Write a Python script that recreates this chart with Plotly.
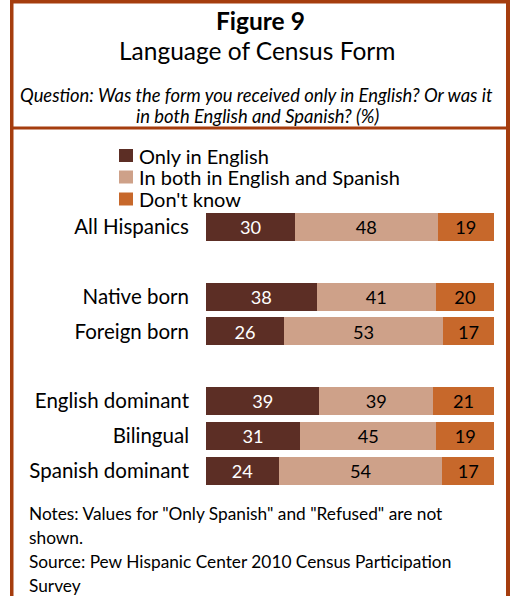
import plotly.graph_objects as go

# ---- data ----
categories = ["All Hispanics", "Native born", "Foreign born",
              "English dominant", "Bilingual", "Spanish dominant"]
row_pos = [0, 2, 3, 5, 6, 7]
only_english = [30, 38, 26, 39, 31, 24]
both_languages = [48, 41, 53, 39, 45, 54]
dont_know = [19, 20, 17, 21, 19, 17]
series_names = ["Only in English", "In both in English and Spanish", "Don't know"]

W, H = 512, 596
FONT = "Lato"
C_DARK = "#5C2E25"
C_TAN = "#CEA189"
C_ORANGE = "#C7682B"
C_BORDER = "#A53D0E"
series_colors = [C_DARK, C_TAN, C_ORANGE]
text_colors = ["white", "black", "black"]


def px(x):
    return x / W


def py(y):
    return 1 - y / H


fig = go.Figure()
for name, vals, col, tcol in zip(series_names,
                                 [only_english, both_languages, dont_know],
                                 series_colors, text_colors):
    fig.add_trace(go.Bar(
        y=row_pos, x=vals, name=name, orientation="h",
        marker=dict(color=col, line=dict(width=0)),
        width=0.8,
        text=[str(v) for v in vals], textposition="inside",
        insidetextanchor="middle", textangle=0,
        textfont=dict(family=FONT, size=20, color=tcol),
        hoverinfo="skip", showlegend=False,
    ))

fig.update_layout(
    width=W, height=H,
    margin=dict(l=0, r=0, t=0, b=0),
    paper_bgcolor="white", plot_bgcolor="white",
    barmode="stack", barnorm="percent", bargap=0,
    font=dict(family=FONT, size=19, color="black"),
    showlegend=False,
    xaxis=dict(domain=[px(206), px(494)], range=[0, 100], visible=False,
               fixedrange=True),
    yaxis=dict(domain=[py(488), py(209.6)], range=[7.5, -0.5],
               tickvals=row_pos, ticktext=categories, showgrid=False,
               zeroline=False, showline=False, ticks="",
               ticklabelstandoff=16,
               tickfont=dict(family=FONT, size=20.5, color="black"),
               fixedrange=True),
)

# legend (drawn as swatches + labels)
legend_y = [155.5, 177, 199]
for name, col, yy in zip(series_names, series_colors, legend_y):
    fig.add_shape(type="rect", xref="paper", yref="paper",
                  x0=px(119), x1=px(133), y0=py(yy + 6.5), y1=py(yy - 6.5),
                  fillcolor=col, line=dict(width=0))
    fig.add_annotation(text=name, x=px(137), y=py(yy), xref="paper",
                       yref="paper", showarrow=False, xanchor="left",
                       yanchor="middle",
                       font=dict(family=FONT, size=20, color="black"))

# frame
line_shapes = [
    dict(x0=px(10), x1=px(13.5), y0=py(0), y1=py(H)),
    dict(x0=px(506), x1=px(510), y0=py(0), y1=py(H)),
    dict(x0=px(10), x1=px(510), y0=py(0), y1=py(3.5)),
    dict(x0=px(10), x1=px(510), y0=py(126.5), y1=py(129.5)),
]
for s in line_shapes:
    fig.add_shape(type="rect", xref="paper", yref="paper",
                  fillcolor=C_BORDER, line=dict(width=0), layer="above", **s)

# header text
fig.add_annotation(text="<b>Figure 9</b>", x=px(260), y=py(21), xref="paper",
                   yref="paper", showarrow=False, xanchor="center",
                   yanchor="middle", font=dict(family=FONT, size=24.5))
fig.add_annotation(text="Language of Census Form", x=px(257), y=py(51),
                   xref="paper", yref="paper", showarrow=False,
                   xanchor="center", yanchor="middle",
                   font=dict(family=FONT, size=24.5))
fig.add_annotation(text="<i>Question: Was the form you received only in English? Or was it</i>",
                   x=px(256), y=py(95), xref="paper", yref="paper",
                   showarrow=False, xanchor="center", yanchor="middle",
                   font=dict(family=FONT, size=18.4))
fig.add_annotation(text="<i>in both English and Spanish? (%)</i>",
                   x=px(257), y=py(116), xref="paper", yref="paper",
                   showarrow=False, xanchor="center", yanchor="middle",
                   font=dict(family=FONT, size=18.4))

# notes
notes = ['Notes: Values for "Only Spanish" and "Refused" are not',
         'shown.',
         'Source: Pew Hispanic Center 2010 Census Participation',
         'Survey']
note_y = [513, 537, 561, 585]
for t, yy in zip(notes, note_y):
    fig.add_annotation(text=t, x=px(27), y=py(yy), xref="paper", yref="paper",
                       showarrow=False, xanchor="left", yanchor="middle",
                       font=dict(family=FONT, size=17.3))

fig.write_html("out.html",
               config={"displayModeBar": False, "staticPlot": True},
               post_script="document.body.style.margin='0px';"
                           "document.body.style.overflow='hidden';")
